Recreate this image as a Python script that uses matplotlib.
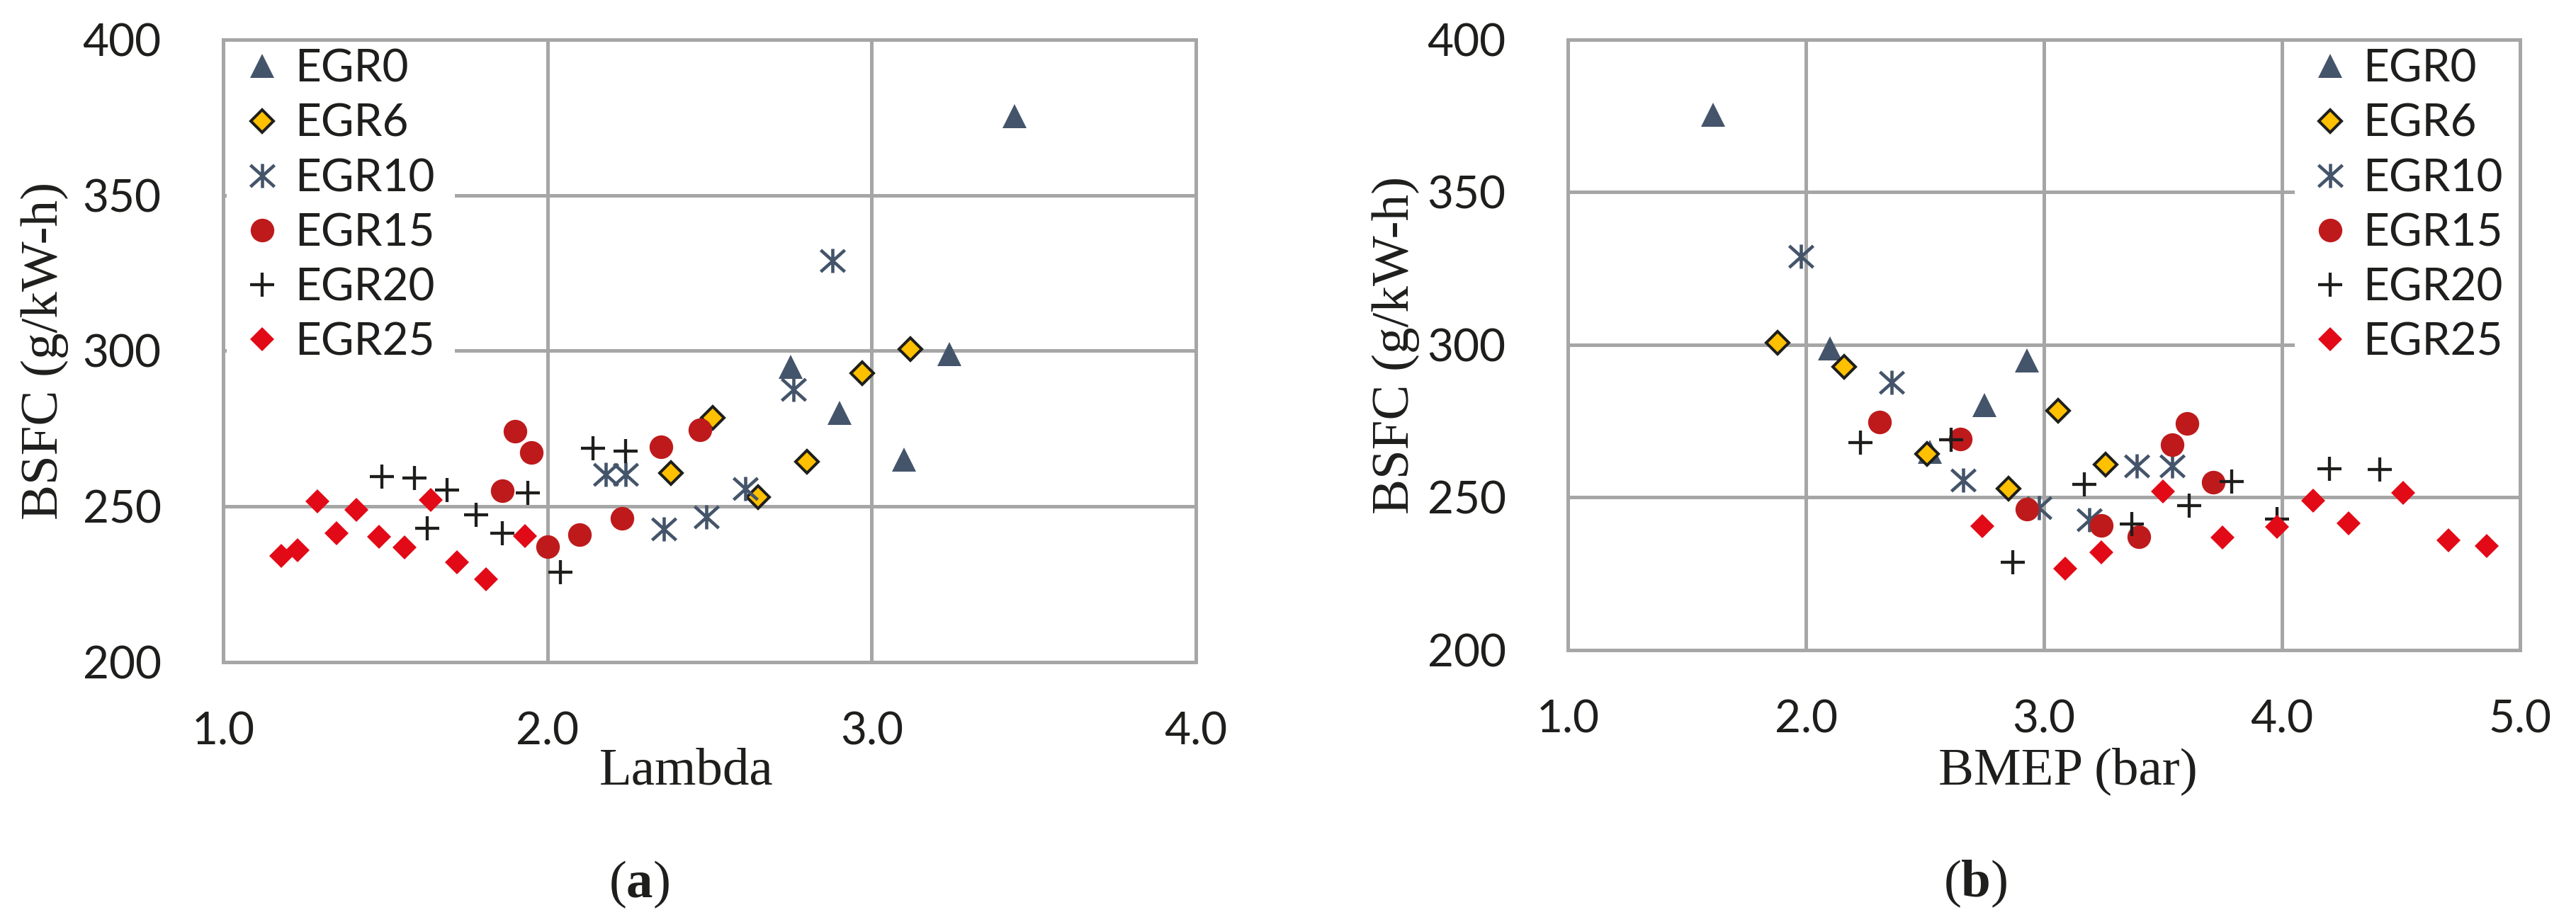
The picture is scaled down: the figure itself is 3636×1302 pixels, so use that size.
#! /usr/bin/env python3

import matplotlib
matplotlib.use('Agg')
import matplotlib.pyplot as plt
from matplotlib.path import Path

# BSFC (g/kW-h) per series, with the matching lambda and BMEP (bar) values
egr0_bsfc = [375.4, 298.9, 294.9, 280.2, 265.0]
egr0_lam = [3.44, 3.24, 2.75, 2.90, 3.10]
egr0_bmep = [1.61, 2.10, 2.93, 2.75, 2.52]

egr6_bsfc = [300.6, 292.9, 278.5, 264.3, 260.7, 253.0]
egr6_lam = [3.12, 2.97, 2.51, 2.80, 2.38, 2.65]
egr6_bmep = [1.88, 2.16, 3.06, 2.51, 3.26, 2.85]

egr10_bsfc = [329.0, 287.7, 260.4, 260.4, 255.8, 246.6, 242.8]
egr10_lam = [2.88, 2.76, 2.18, 2.24, 2.61, 2.49, 2.36]
egr10_bmep = [1.98, 2.36, 3.39, 3.54, 2.66, 2.98, 3.19]

egr15_bsfc = [274.7, 274.2, 269.1, 267.3, 255.0, 246.2, 240.9, 237.2]
egr15_lam = [2.47, 1.90, 2.35, 1.95, 1.86, 2.23, 2.10, 2.00]
egr15_bmep = [2.31, 3.60, 2.65, 3.54, 3.71, 2.93, 3.24, 3.40]

egr20_bsfc = [268.8, 267.9, 259.5, 259.2, 255.2, 254.3, 247.3, 243.0, 241.3, 228.8]
egr20_lam = [2.14, 2.24, 1.49, 1.59, 1.69, 1.94, 1.78, 1.63, 1.86, 2.04]
egr20_bmep = [2.61, 2.23, 4.20, 4.41, 3.79, 3.17, 3.61, 3.98, 3.37, 2.87]

egr25_bsfc = [252.0, 251.6, 249.0, 241.5, 240.6, 240.3, 236.8, 235.9, 234.2, 232.0, 226.7]
egr25_lam = [1.64, 1.29, 1.41, 1.35, 1.93, 1.48, 1.56, 1.23, 1.18, 1.72, 1.81]
egr25_bmep = [3.50, 4.51, 4.13, 4.28, 2.74, 3.98, 3.75, 4.70, 4.86, 3.24, 3.09]

labels = ['EGR0', 'EGR6', 'EGR10', 'EGR15', 'EGR20', 'EGR25']
x_ticks_a = [1.0, 2.0, 3.0, 4.0]
x_ticks_b = [1.0, 2.0, 3.0, 4.0, 5.0]
y_ticks = [200, 250, 300, 350, 400]

plt.rcParams['mathtext.fontset'] = 'custom'
plt.rcParams['mathtext.rm'] = 'Liberation Serif'
plt.rcParams['mathtext.bf'] = 'Liberation Serif:bold'

TXT = '#1e1e1c'
GRID = '#a6a6a6'
SLATE = '#44546a'

# vertical bar + X, like the excel star marker
star = Path([(0, -1), (0, 1), (-1, -0.9), (1, 0.9), (-1, 0.9), (1, -0.9)],
            [Path.MOVETO, Path.LINETO, Path.MOVETO, Path.LINETO,
             Path.MOVETO, Path.LINETO])

styles = [
    dict(marker='^', ms=24, mfc=SLATE, mec=SLATE, mew=0),
    dict(marker='D', ms=16, mfc='#ffc000', mec='#1e1e1c', mew=2.9),
    dict(marker=star, ms=24.5, mfc='none', mec=SLATE, mew=3.3),
    dict(marker='o', ms=24, mfc='#be1a1c', mec='#be1a1c', mew=0),
    dict(marker='+', ms=24.5, mec='#1e1e1c', mew=3.1),
    dict(marker='D', ms=17, mfc='#e20a17', mec='#e20a17', mew=0),
]

bsfc = [egr0_bsfc, egr6_bsfc, egr10_bsfc, egr15_bsfc, egr20_bsfc, egr25_bsfc]
lam = [egr0_lam, egr6_lam, egr10_lam, egr15_lam, egr20_lam, egr25_lam]
bmep = [egr0_bmep, egr6_bmep, egr10_bmep, egr15_bmep, egr20_bmep, egr25_bmep]

W, H = 3636, 1302
fig = plt.figure(figsize=(W/100, H/100), dpi=100)
ax_a = fig.add_axes([315/W, 1-935/H, 1373/W, 879/H])
ax_b = fig.add_axes([2213/W, 1-918/H, 1344/W, 862/H])


def style_axes(ax, xticks, xlabel, xlab_pos, ylab_x):
    ax.set_xlim(xticks[0], xticks[-1])
    ax.set_ylim(200, 400)
    ax.set_xticks(xticks)
    ax.set_yticks(y_ticks)
    ax.set_xticklabels(['{:.1f}'.format(t) for t in xticks])
    ax.set_yticklabels([str(t) for t in y_ticks])
    ax.set_axisbelow(True)
    ax.grid(True, color=GRID, lw=3.6)
    for s in ax.spines.values():
        s.set_color(GRID)
        s.set_linewidth(3.6)
    ax.tick_params(axis='both', length=0, labelsize=46, labelcolor=TXT)
    ax.tick_params(axis='x', pad=50)
    ax.tick_params(axis='y', pad=63)
    for t in ax.get_xticklabels() + ax.get_yticklabels():
        t.set_family('Lato')
    ax.set_xlabel(xlabel, family='Liberation Serif', fontsize=54, color=TXT,
                  va='baseline')
    ax.xaxis.set_label_coords(*xlab_pos)
    ax.set_ylabel('BSFC (g/kW-h)', family='Liberation Serif', fontsize=54,
                  color=TXT, va='center')
    ax.yaxis.set_label_coords(ylab_x, 0.5)


def add_legend(ax, left_px, top_px):
    leg = ax.legend(loc='upper left', bbox_to_anchor=(left_px/W, 1-top_px/H),
                    bbox_transform=fig.transFigure, borderaxespad=0,
                    prop={'family': 'Lato', 'size': 46}, labelcolor=TXT,
                    frameon=True, facecolor='white', edgecolor='none',
                    framealpha=1, fancybox=False, borderpad=0.45,
                    labelspacing=0.3, handlelength=0.66, handletextpad=0.39,
                    numpoints=1)
    leg.set_zorder(2.4)


for i in range(len(labels)):
    ax_a.plot(lam[i], bsfc[i], ls='none', label=labels[i], **styles[i])
    ax_b.plot(bmep[i], bsfc[i], ls='none', label=labels[i], **styles[i])

style_axes(ax_a, x_ticks_a, 'Lambda', ((969-315)/1373, -(1108-935)/879),
           -(315-63)/1373)
style_axes(ax_b, x_ticks_b, 'BMEP (bar)', ((2919-2213)/1344, -(1107-918)/862),
           -(2213-1970)/1344)

add_legend(ax_a, 320, 40)
add_legend(ax_b, 3239, 40)

fig.text(902/W, 1-1249/H, r'($\mathbf{a}$)', family='Liberation Serif',
         fontsize=54, color=TXT, ha='center', va='center')
fig.text(2788/W, 1-1248/H, r'($\mathbf{b}$)', family='Liberation Serif',
         fontsize=54, color=TXT, ha='center', va='center')

fig.savefig('out.png', dpi=100, facecolor='white')
